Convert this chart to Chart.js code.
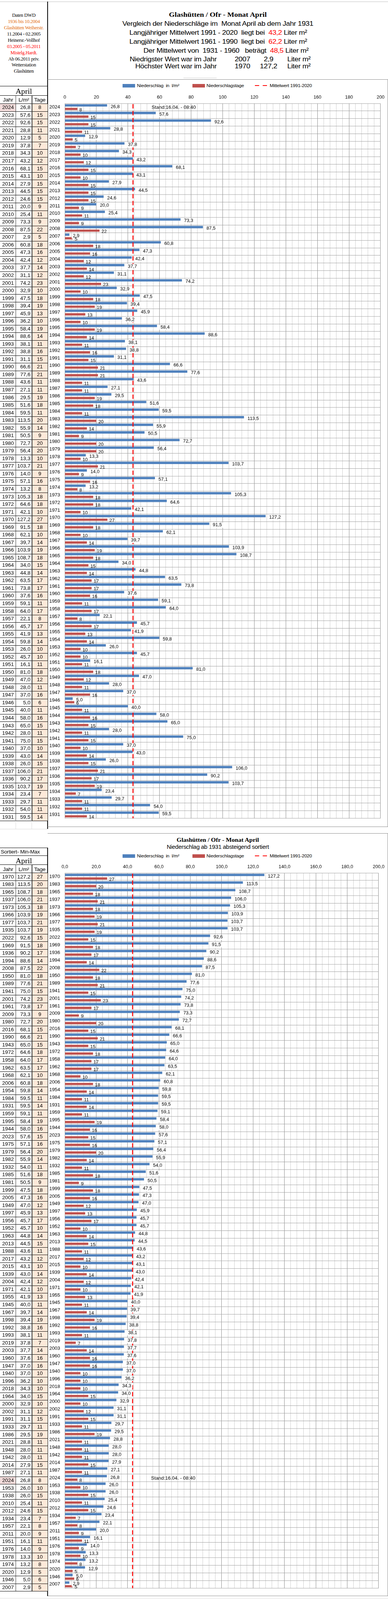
<!DOCTYPE html>
<html>
<head>
<meta charset="utf-8">
<script src="https://cdn.jsdelivr.net/npm/chart.js@4.4.1/dist/chart.umd.min.js"></script>
<style>
html, body { margin:0; padding:0; background:#fff; overflow:hidden; }
#page { position:relative; width:994px; font-family:'Liberation Sans', Arial, sans-serif; color:#000; }
.t { position:absolute; white-space:pre; line-height:1; }
.r { color:#ff0000; }
.o { color:#e26b0a; }
.ln { position:absolute; }
canvas { position:absolute; }
</style>
</head>
<body>
<div id="page">
<canvas id="chartTop"></canvas>
<canvas id="chartSorted"></canvas>
</div>
<script>
// Jahre, Niederschlag (l/m²) und Niederschlagstage im April, 2024 bis 1931
const jahre = [2024,2023,2022,2021,2020,2019,2018,2017,2016,2015,2014,2013,2012,2011,2010,2009,2008,2007,2006,2005,
  2004,2003,2002,2001,2000,1999,1998,1997,1996,1995,1994,1993,1992,1991,1990,1989,1988,1987,1986,1985,
  1984,1983,1982,1981,1980,1979,1978,1977,1976,1975,1974,1973,1972,1971,1970,1969,1968,1967,1966,1965,
  1964,1963,1962,1961,1960,1959,1958,1957,1956,1955,1954,1953,1952,1951,1950,1949,1948,1947,1946,1945,
  1944,1943,1942,1941,1940,1939,1938,1937,1936,1935,1934,1933,1932,1931];
const niederschlag = [26.8,57.6,92.6,28.8,12.9,37.8,34.3,43.2,68.1,43.1,27.9,44.5,24.6,20.0,25.4,73.3,87.5,2.9,60.8,47.3,
  42.4,37.7,31.1,74.2,32.9,47.5,39.4,45.9,36.2,58.4,88.6,38.1,38.8,31.1,66.6,77.6,43.6,27.1,29.5,51.6,
  59.5,113.5,55.9,50.5,72.7,56.4,13.3,103.7,14.0,57.1,13.2,105.3,64.6,42.1,127.2,91.5,62.1,39.7,103.9,108.7,
  34.0,44.8,63.5,73.8,37.6,59.1,64.0,22.1,45.7,41.9,59.8,26.0,45.7,16.1,81.0,47.0,28.0,37.0,5.0,40.0,
  58.0,65.0,28.0,75.0,37.0,43.0,26.0,106.0,90.2,103.7,23.4,29.7,54.0,59.5];
const tage = [8,15,15,11,5,7,10,12,15,10,15,15,15,9,11,9,22,5,18,16,
  12,14,12,23,10,18,19,13,10,19,14,11,16,15,21,21,11,11,19,18,
  11,20,14,9,20,20,10,21,9,16,8,18,18,10,27,18,10,14,19,18,
  15,14,17,17,16,11,17,8,17,13,14,10,10,11,18,12,11,16,6,11,
  16,15,11,15,10,14,15,21,17,19,7,11,11,14];
const mittel9120 = 43.2;
const achseMax = 200;
const standText = 'Stand:16.04. - 08:40';
const standJahr = 2024;

// sortierte Reihenfolge (absteigend)
const order = jahre.map((j, i) => i).sort((a, b) => niederschlag[b] - niederschlag[a]);
const jahreSort = order.map(i => jahre[i]);
const niederschlagSort = order.map(i => niederschlag[i]);
const tageSort = order.map(i => tage[i]);

// Seite ist 4397 hoch; ist das Fenster niedriger, wird senkrecht eingepasst
const PAGE_H = 4397;
const vh = window.innerHeight || document.documentElement.clientHeight || PAGE_H;
const SY = Math.min(1, vh / PAGE_H);
const Y = y => y * SY;

const page = document.getElementById('page');
page.style.height = Y(PAGE_H) + 'px';
const fmt1 = v => v.toFixed(1).replace('.', ',');

function put(html, x, y, css, align) {
  const d = document.createElement('div');
  d.className = 't';
  d.innerHTML = html;
  d.style.cssText = (css || '') + ';left:' + x + 'px;top:' + Y(y) + 'px;';
  const tx = align === 'center' ? '-50%' : (align === 'right' ? '-100%' : '0');
  d.style.transform = 'translate(' + tx + ',-50%) scale(1,' + SY + ')';
  d.style.transformOrigin = align === 'center' ? '50% 50%' : (align === 'right' ? '100% 50%' : '0 50%');
  page.appendChild(d);
}
function box(x, y, w, h, color) {
  const d = document.createElement('div');
  d.className = 'ln';
  const hh = h <= 1.5 ? h : h * SY;
  d.style.cssText = `left:${x}px;top:${Y(y)}px;width:${w}px;height:${hh}px;background:${color}`;
  page.appendChild(d);
}

// ---------- Kopfbereich oben ----------
box(0, 4, 994, 1, '#bfbfbf');
const serif = "font-family:'Liberation Serif','Times New Roman',serif;";
const links = [
  ['Daten DWD', ''], ['1936 bis 10.2004', 'o'], ['Glashütten Weiherstr.', 'o'], ['11.2004 - 02.2005', ''],
  ['Heinersr.-Vollhof', ''], ['03.2005 - 05.2011', 'r'], ['Mistelg.Hardt.', 'r'], ['Ab 06.2011 priv.', ''],
  ['Wetterstation', ''], ['Glashütten', '']
];
links.forEach((l, i) => put(`<span class="${l[1]}">${l[0]}</span>`, 61, 43 + i * 17.1, serif + 'font-size:12.5px;letter-spacing:-0.3px', 'center'));

put('Glashütten / Ofr - Monat April', 558, 40, serif + 'font-size:19px;font-weight:bold', 'center');
const hs = 'font-size:18.5px;letter-spacing:-0.4px';
put('Vergleich der Niederschläge im  Monat April ab dem Jahr 1931', 558, 65, hs, 'center');
put('Langjähriger Mittelwert 1991 - 2020  liegt bei  <span class="r">43,2</span> Liter m²', 559, 90, hs, 'center');
put('Langjähriger Mittelwert 1961 - 1990  liegt bei  <span class="r">62,2</span> Liter m²', 559, 115, hs, 'center');
put('Der Mittelwert von  1931 - 1960   beträgt  <span class="r">48,5</span> Liter m²', 579, 140, hs, 'center');
put('Niedrigster Wert war im Jahr', 555, 163, hs, 'right');
put('2007', 621, 163, hs, 'center');
put('2,9', 688, 163, hs, 'center');
put('Liter m²', 736, 163, hs, 'left');
put('Höchster Wert war im Jahr', 555, 183, hs, 'right');
put('1970', 621, 183, hs, 'center');
put('127,2', 688, 183, hs, 'center');
put('Liter m²', 736, 183, hs, 'left');
box(470, 214, 85, 1, '#d0d0d0');

function legende(y) {
  box(314, y - 4, 32, 9, '#4f81bd');
  put('Niederschlag  in  l/m²', 351, y, 'font-size:12px;letter-spacing:-0.2px', 'left');
  box(493, y - 4, 32, 9, '#c0504d');
  put('Niederschlagstage', 529, y, 'font-size:12px;letter-spacing:-0.2px', 'left');
  box(653, y - 1.5, 11, 3, '#ff0000');
  box(673, y - 1.5, 11, 3, '#ff0000');
  put('Mittelwert 1991-2020', 691, y, 'font-size:12px;letter-spacing:-0.2px', 'left');
}

// ---------- Tabelle links ----------
function tabelle(yrs, vals, tg, top, rowH) {
  for (let i = 0; i < yrs.length; i++) {
    const y = top + i * rowH;
    box(82, y, 40, rowH, '#fde9d9');
    if (yrs[i] === standJahr) box(0, y, 41, rowH, '#f2dcdb');
    put(String(yrs[i]), 20.5, y + rowH / 2 + 0.5, 'font-size:13.5px', 'center');
    put(fmt1(vals[i]), 78, y + rowH / 2 + 0.5, 'font-size:13.5px', 'right');
    put(String(tg[i]), 102, y + rowH / 2 + 0.5, 'font-size:13.5px', 'center');
    box(0, y, 122, 1, '#000');
  }
  const bot = top + yrs.length * rowH;
  box(0, bot, 122, 1, '#000');
  box(40, top, 1, bot - top, '#333');
  box(81, top, 1.5, bot - top, '#333');
  return bot;
}
function tabKopf(yApril, yHead, yStart) {
  box(0, yApril, 122, 1, '#000');
  put('April', 61, (yApril + yHead) / 2 + 1, serif + 'font-size:20px', 'center');
  box(0, yHead, 122, 1, '#000');
  put('Jahr', 20.5, (yHead + yStart) / 2 + 1, 'font-size:14px;letter-spacing:-0.3px', 'center');
  put('L/m²', 61, (yHead + yStart) / 2 + 1, 'font-size:14px;letter-spacing:-0.3px', 'center');
  put('Tage', 102, (yHead + yStart) / 2 + 1, 'font-size:14px;letter-spacing:-0.3px', 'center');
  box(40, yHead, 1, yStart - yHead, '#333');
  box(81, yHead, 1.5, yStart - yHead, '#333');
}

// ---------- Diagramm ----------
const beschriftung = {
  id: 'beschriftung',
  afterDatasetsDraw(chart) {
    const ctx = chart.ctx, xs = chart.scales.x, ys = chart.scales.y, area = chart.chartArea;
    ctx.save();
    const mx = xs.getPixelForValue(mittel9120);
    ctx.strokeStyle = '#ff0000';
    ctx.lineWidth = 2.5;
    ctx.setLineDash([12, 7]);
    ctx.beginPath();
    ctx.moveTo(mx, area.top + 2);
    ctx.lineTo(mx, area.bottom);
    ctx.stroke();
    ctx.setLineDash([]);
    ctx.font = "12px 'Liberation Sans'";
    ctx.textBaseline = 'middle';
    const d0 = chart.data.datasets[0].data, d1 = chart.data.datasets[1].data;
    chart.getDatasetMeta(0).data.forEach((bar, i) => {
      const s = fmt1(d0[i]);
      const w = ctx.measureText(s).width;
      const x = bar.x + 9, y = bar.y + 4;
      ctx.fillStyle = '#fff';
      ctx.fillRect(x - 3, y - 7, w + 6, 14);
      ctx.fillStyle = '#000';
      ctx.fillText(s, x, y);
    });
    chart.getDatasetMeta(1).data.forEach((bar, i) => {
      ctx.fillStyle = '#000';
      ctx.fillText(String(d1[i]), bar.x + 5, bar.y + 3);
    });
    const si = chart.data.labels.indexOf(String(standJahr));
    ctx.font = "12.5px 'Liberation Sans'";
    ctx.fillText(standText, xs.getPixelForValue(55), ys.getPixelForValue(si) + 1);
    ctx.restore();
  }
};

function diagramm(id, plotTop, rowH, yrs, vals, tg, tickFmt) {
  const axisH = 35, padB = 12;
  const plotH = yrs.length * rowH;
  const H = Math.ceil(axisH + plotH + padB);
  const cv = document.getElementById(id);
  cv.width = 872; cv.height = H;
  cv.style.left = '122px';
  cv.style.top = Y(plotTop - axisH) + 'px';
  cv.style.width = '872px';
  cv.style.height = (H * SY) + 'px';
  new Chart(cv, {
    type: 'bar',
    data: {
      labels: yrs.map(String),
      datasets: [
        { label: 'Niederschlag  in  l/m²', data: vals, backgroundColor: '#4f81bd', categoryPercentage: 0.95, barPercentage: 0.66 },
        { label: 'Niederschlagstage', data: tg, backgroundColor: '#c0504d', categoryPercentage: 0.95, barPercentage: 0.62 }
      ]
    },
    options: {
      indexAxis: 'y',
      responsive: false,
      animation: false,
      devicePixelRatio: 1,
      layout: { padding: { left: 0, right: 17, top: 0, bottom: H - axisH - plotH } },
      plugins: { legend: { display: false }, tooltip: { enabled: false } },
      scales: {
        x: {
          position: 'top', min: 0, max: achseMax,
          ticks: { stepSize: 4, autoSkip: false, maxRotation: 0, padding: 9, color: '#000',
                   font: { size: 12, family: 'Liberation Sans' },
                   callback: v => (v % 20 === 0 ? tickFmt(v) : '') },
          grid: { drawTicks: false, lineWidth: 1,
                  color: c => (c.tick && c.tick.value % 20 === 0 ? '#8c8c8c' : '#cdcdcd') },
          border: { display: false },
          afterFit: s => { s.height = axisH; }
        },
        y: {
          ticks: { padding: 12, autoSkip: false, color: '#000', font: { size: 12.5, family: 'Liberation Sans' } },
          grid: { drawTicks: false, color: '#9a9a9a' },
          border: { color: '#9a9a9a' },
          afterFit: s => { s.width = 44; }
        }
      }
    },
    plugins: [beschriftung]
  });
  return plotTop + plotH;
}

// ---------- oberes Diagramm: nach Jahren ----------
const topPlot = 284.5, rowTop = 20.97;
box(121, 4, 1.5, 2274, '#000');
box(122, 218, 872, 1, '#8c8c8c');
legende(235);
tabKopf(236, 262, topPlot);
const topBot = tabelle(jahre, niederschlag, tage, topPlot, rowTop);
box(0, topBot + 22, 122, 1, '#d9d9d9');
box(40, topBot, 1, 22, '#d9d9d9');
box(81, topBot, 1, 22, '#d9d9d9');
diagramm('chartTop', topPlot, rowTop, jahre, niederschlag, tage, v => String(v));
box(122, 2272, 872, 1, '#8c8c8c');
box(993, 218, 1, 2055, '#8c8c8c');

// ---------- unteres Diagramm: sortiert ----------
const sortPlot = 2398.5, rowSort = 21.0;
box(122, 2290, 872, 1, '#8c8c8c');
box(993, 2290, 1, 2096, '#8c8c8c');
box(122, 4385, 872, 1, '#8c8c8c');
box(121, 2330, 1.5, 2056, '#000');
put('Glashütten / Ofr - Monat April', 558, 2308, serif + 'font-size:16px;font-weight:bold', 'center');
put('Niederschlag ab 1931 absteigend sortiert', 558, 2327, 'font-size:15px;letter-spacing:-0.3px', 'center');
legende(2352);
box(0, 2330, 122, 1, '#000');
put('Sortiert- Min-Max', 2, 2341, 'font-size:13.5px;letter-spacing:-0.2px', 'left');
tabKopf(2351, 2376, sortPlot);
tabelle(jahreSort, niederschlagSort, tageSort, sortPlot, rowSort);
diagramm('chartSorted', sortPlot, rowSort, jahreSort, niederschlagSort, tageSort, v => fmt1(v));
box(0, 4392, 994, 1, '#d9d9d9');
</script>
</body>
</html>
